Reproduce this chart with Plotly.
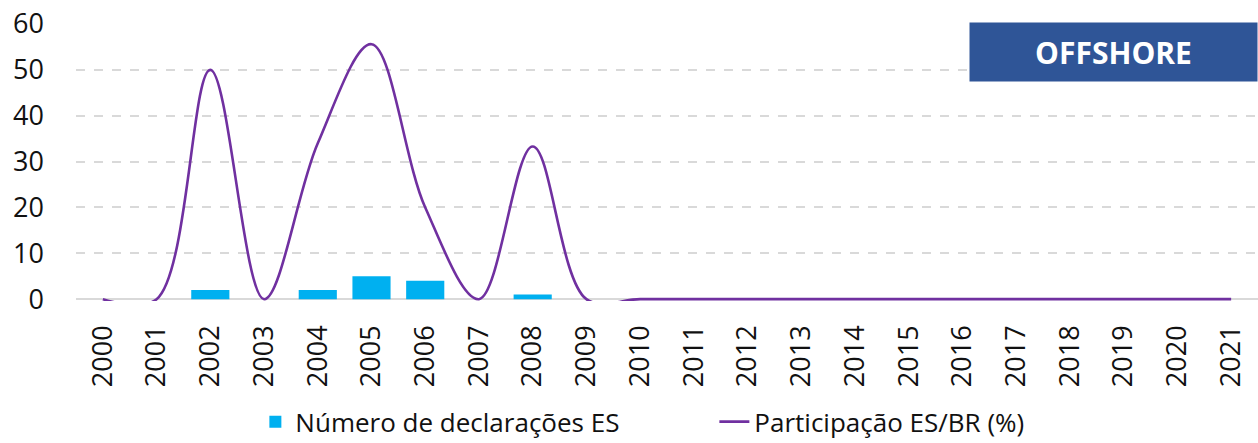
import plotly.graph_objects as go

# Data
years = [str(y) for y in range(2000, 2022)]
declaracoes = [0, 0, 2, 0, 2, 5, 4, 0, 1, 0, 0, 0, 0, 0, 0, 0, 0, 0, 0, 0, 0, 0]
participacao = [0, 0, 50, 0, 34, 55.6, 20, 0, 33.3, 0, 0, 0, 0, 0, 0, 0, 0, 0, 0, 0, 0, 0]

# Colours
barColour = '#00B0F0'
lineColour = '#7030A0'
boxColour = '#2F5597'
gridColour = '#D9D9D9'
fontColour = '#111111'

fig = go.Figure()

fig.add_trace(go.Bar(x=years, y=declaracoes, name='Número de declarações ES',
                     marker=dict(color=barColour, line=dict(width=0))))
fig.add_trace(go.Scatter(x=years, y=participacao, name='Participação ES/BR (%)', mode='lines',
                         line=dict(color=lineColour, width=2.6, shape='spline', smoothing=1.0)))

# OFFSHORE label box in the top right corner
fig.add_annotation(text='<b>OFFSHORE</b>', xref='paper', yref='paper', x=1.0, y=1.008,
                   xanchor='right', yanchor='top', width=287, height=58, borderpad=0,
                   bgcolor=boxColour, showarrow=False, align='center', valign='middle',
                   font=dict(size=30, color='white', family='Open Sans'))

fig.update_xaxes(type='category', tickangle=-90, showgrid=False, showline=False, ticks='',
                 tickfont=dict(size=27, color=fontColour), automargin=False, ticklabelstandoff=18)
fig.update_yaxes(range=[-0.4, 60], dtick=10, showgrid=True, gridcolor=gridColour, griddash='dash',
                 gridwidth=1.5, zeroline=True, zerolinecolor=gridColour, zerolinewidth=2,
                 tickfont=dict(size=27, color=fontColour), ticks='', ticklabelstandoff=31,
                 automargin=False)

fig.update_layout(width=1258, height=443, paper_bgcolor='white', plot_bgcolor='white',
                  font=dict(family='Open Sans', color=fontColour), bargap=0.29,
                  margin=dict(t=24, b=142, l=76, r=0),
                  legend=dict(orientation='h', xref='container', yref='container', x=0.203, xanchor='left',
                              y=0.048, yanchor='middle', font=dict(size=26, color=fontColour),
                              entrywidth=414, entrywidthmode='pixels'),
                  showlegend=True)

# drop the default page margin so the figure sits at the window's corner
fig.write_html("out.html", config=dict(displayModeBar=False),
               post_script="document.body.style.margin='0';")
